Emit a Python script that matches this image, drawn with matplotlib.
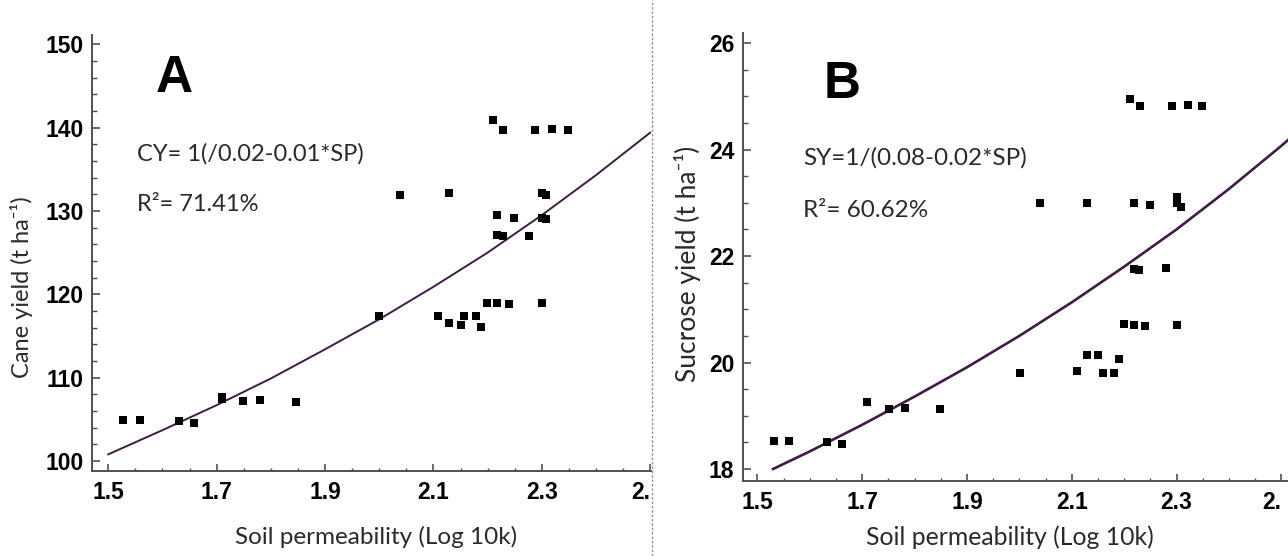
import matplotlib
matplotlib.use("Agg")
import matplotlib.pyplot as plt
from matplotlib.ticker import MultipleLocator, FixedLocator
from matplotlib.lines import Line2D
from matplotlib.transforms import blended_transform_factory, ScaledTranslation

# ---------------- data ----------------
cane_sp = [1.527, 1.558, 1.631, 1.658, 1.709, 1.709, 1.748, 1.779, 1.847, 2.000,
           2.039, 2.129, 2.108, 2.129, 2.150, 2.157, 2.179, 2.188, 2.198, 2.218,
           2.240, 2.300, 2.209, 2.229, 2.288, 2.318, 2.349, 2.300, 2.308, 2.218,
           2.248, 2.300, 2.308, 2.218, 2.229, 2.276]
cane_yield = [104.9, 104.9, 104.8, 104.6, 107.7, 107.4, 107.2, 107.3, 107.1, 117.4,
              131.9, 132.1, 117.4, 116.6, 116.3, 117.4, 117.4, 116.1, 119.0, 119.0,
              118.8, 119.0, 140.9, 139.7, 139.7, 139.8, 139.7, 132.1, 131.9, 129.5,
              129.2, 129.2, 129.0, 127.1, 127.0, 127.0]

cane_fit_sp = [1.5, 1.6, 1.7, 1.8, 1.9, 2.0, 2.1, 2.2, 2.3, 2.4, 2.5]
cane_fit_y = [100.8, 103.7, 106.7, 109.9, 113.4, 117.0, 120.9, 125.0, 129.5, 134.3, 139.4]

suc_sp = [1.532, 1.561, 1.632, 1.661, 1.710, 1.751, 1.781, 1.849, 2.002, 2.039,
          2.129, 2.110, 2.129, 2.151, 2.160, 2.181, 2.190, 2.199, 2.219, 2.240,
          2.301, 2.211, 2.230, 2.291, 2.321, 2.349, 2.219, 2.250, 2.301, 2.301,
          2.309, 2.219, 2.229, 2.279]
suc_yield = [18.53, 18.53, 18.50, 18.47, 19.25, 19.13, 19.15, 19.13, 19.81, 22.99,
             22.99, 19.85, 20.15, 20.15, 19.81, 19.81, 20.07, 20.72, 20.70, 20.68,
             20.70, 24.95, 24.81, 24.81, 24.83, 24.81, 22.99, 22.96, 23.10, 22.99,
             22.93, 21.75, 21.73, 21.77]

suc_fit_sp = [1.53, 1.6, 1.7, 1.8, 1.9, 2.0, 2.1, 2.2, 2.3, 2.4, 2.5, 2.52]
suc_fit_y = [18.00, 18.33, 18.83, 19.36, 19.91, 20.50, 21.13, 21.80, 22.50, 23.26, 24.07, 24.24]

x_ticks = [1.5, 1.7, 1.9, 2.1, 2.3, 2.5]
x_ticklabels = ["1.5", "1.7", "1.9", "2.1", "2.3", ""]
last_tick_text = "2."          # the reference shows this label cut to "2."
cane_yticks = [100, 110, 120, 130, 140, 150]
suc_yticks = [18, 20, 22, 24, 26]

xlabel = "Soil permeability (Log 10k)"
ylabel_a = "Cane yield (t ha\u207b\u00b9)"
ylabel_b = "Sucrose yield (t ha\u207b\u00b9)"
eq_a = "CY= 1(/0.02-0.01*SP)"
r2_a = "R\u00b2= 71.41%"
eq_b = "SY=1/(0.08-0.02*SP)"
r2_b = "R\u00b2= 60.62%"

# ---------------- styling ----------------
W, H = 1288, 556
TXT = ["Lato", "DejaVu Sans"]
TICKF = ["Liberation Sans", "DejaVu Sans"]
SPINE = "#505050"
LINEC = "#3e1c44"
TEXTC = "#2a2a2a"
TICKSIZE = 16.5
XPAD = 7.5

plt.rcParams["font.family"] = TICKF
plt.rcParams["font.weight"] = "bold"

fig = plt.figure(figsize=(W / 100, H / 100), dpi=100)
fig.patch.set_facecolor("white")

axA = fig.add_axes([92.3 / W, (H - 471) / H, (651 - 92.3) / W, 436 / H])
axB = fig.add_axes([742.7 / W, (H - 480.7) / H, (W - 742.7) / W, 447.7 / H])


def style(ax, xlim, ylim, yticks, yminor, xl, yl, lab_size, ylab_coords, xlab_coords):
    ax.set_xlim(*xlim)
    ax.set_ylim(*ylim)
    for s in ("top", "right"):
        ax.spines[s].set_visible(False)
    for s in ("left", "bottom"):
        ax.spines[s].set_color(SPINE)
        ax.spines[s].set_linewidth(1.4)
    ax.xaxis.set_major_locator(FixedLocator(x_ticks))
    ax.set_xticklabels(x_ticklabels)
    ax.xaxis.set_minor_locator(MultipleLocator(0.05))
    ax.yaxis.set_major_locator(FixedLocator(yticks))
    ax.set_yticklabels([str(v) for v in yticks])
    ax.yaxis.set_minor_locator(MultipleLocator(yminor))
    ax.tick_params(axis="x", which="major", direction="in", length=5, width=1.2,
                   color=SPINE, pad=XPAD, labelsize=TICKSIZE, labelcolor="black")
    ax.tick_params(axis="x", which="minor", direction="in", length=2.5, width=1.0,
                   color=SPINE)
    ax.tick_params(axis="y", which="major", direction="in", length=6, width=1.2,
                   color=SPINE, pad=6, labelsize=TICKSIZE, labelcolor="black")
    ax.tick_params(axis="y", which="minor", direction="in", length=3.5, width=1.0,
                   color=SPINE)
    ax.set_xlabel(xl, fontsize=lab_size[0], family=TXT, fontweight="normal", color=TEXTC)
    ax.set_ylabel(yl, fontsize=lab_size[1], family=TXT, fontweight="normal", color=TEXTC)
    ax.yaxis.label.set(ha="center", va="center", rotation_mode="default")
    ax.xaxis.label.set(ha="center", va="center")
    ax.yaxis.set_label_coords(*ylab_coords)
    ax.xaxis.set_label_coords(*xlab_coords)
    # the last x tick label, cut in the reference, right-aligned at its tick
    tr = blended_transform_factory(ax.transData, ax.transAxes) + \
        ScaledTranslation(0, -XPAD / 72, fig.dpi_scale_trans)
    ax.text(x_ticks[-1], 0, last_tick_text, transform=tr, ha="right", va="top",
            fontsize=TICKSIZE, fontweight="bold", color="black", clip_on=False)


style(axA, (1.4705, 2.5013), (98.8, 151.1), cane_yticks, 2, xlabel, ylabel_a,
      (17.5, 17), (-0.1264, 0.4206), (0.508, -0.151))
style(axB, (1.472, 2.5128), (17.78, 26.19), suc_yticks, 0.5, xlabel, ylabel_b,
      (17.8, 19), (-0.1016, 0.484), (0.49, -0.126))

axA.plot(cane_fit_sp, cane_fit_y, color=LINEC, lw=1.4, zorder=2, clip_on=True)
axA.scatter(cane_sp, cane_yield, marker="s", s=26, color="black", zorder=3,
            linewidths=0)
axB.plot(suc_fit_sp, suc_fit_y, color=LINEC, lw=1.9, zorder=2, clip_on=True)
axB.scatter(suc_sp, suc_yield, marker="s", s=26, color="black", zorder=3,
            linewidths=0)

axA.text(0.146, 0.869, "A", transform=axA.transAxes, ha="center", va="baseline",
         fontsize=37, fontweight="bold", color="black")
axA.text(0.0795, 0.713, eq_a, transform=axA.transAxes, ha="left", va="baseline",
         fontsize=17, family=TXT, fontweight="normal", color=TEXTC)
axA.text(0.0795, 0.597, r2_a, transform=axA.transAxes, ha="left", va="baseline",
         fontsize=17, family=TXT, fontweight="normal", color=TEXTC)

axB.text(0.182, 0.855, "B", transform=axB.transAxes, ha="center", va="baseline",
         fontsize=37, fontweight="bold", color="black")
axB.text(0.111, 0.705, eq_b, transform=axB.transAxes, ha="left", va="baseline",
         fontsize=17.5, family=TXT, fontweight="normal", color=TEXTC)
axB.text(0.111, 0.590, r2_b, transform=axB.transAxes, ha="left", va="baseline",
         fontsize=17.5, family=TXT, fontweight="normal", color=TEXTC)

# dotted separator between the two panels
fig.add_artist(Line2D([651.7 / W, 651.7 / W], [0, 1], transform=fig.transFigure,
                      color="#8a8a8a", lw=0.9, ls=(0, (2, 1.5)), zorder=21))

fig.savefig("out.png", dpi=100, facecolor="white")
